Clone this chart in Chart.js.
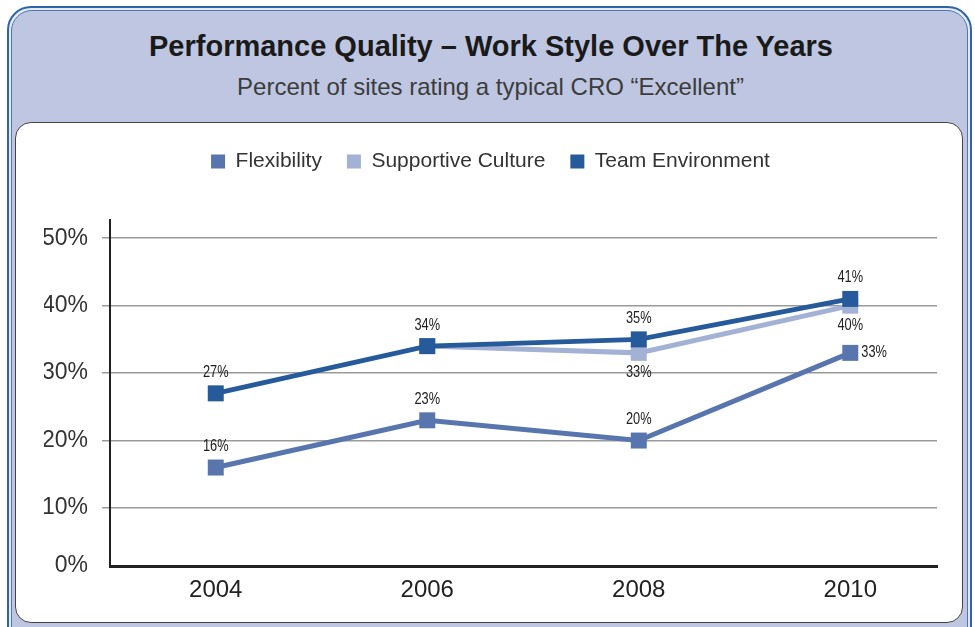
<!DOCTYPE html>
<html>
<head>
<meta charset="utf-8">
<script src="https://cdn.jsdelivr.net/npm/chart.js@4.4.1/dist/chart.umd.min.js"></script>
<style>
  body { margin: 0; width: 975px; height: 627px; overflow: hidden; background: #fff; font-family: "Liberation Sans", Arial, sans-serif; }
  .frame { position: absolute; left: 7px; top: 6px; width: 961px; height: 650px; border: 2px solid #2f64ab; border-radius: 24px; background: #e4e9f4; }
  .frame-in { position: absolute; left: 2px; top: 2px; right: 2px; bottom: 2px; border: 1px solid #4a78b8; border-radius: 21px; background: #bec6e1; }
  .title { position: absolute; left: 0; width: 982px; top: 30px; text-align: center; font-weight: bold; font-size: 29px; color: #1a1a1a; }
  .subtitle { position: absolute; left: 0; width: 981px; top: 73px; text-align: center; font-size: 24px; color: #3c3c3c; }
  .panel { position: absolute; left: 15px; top: 122px; width: 946px; height: 499px; border: 1.5px solid #444; border-radius: 16px; background: #fff; }
  canvas { position: absolute; left: 0; top: 0; }
</style>
</head>
<body>
<div class="frame"><div class="frame-in"></div></div>
<div class="title">Performance Quality – Work Style Over The Years</div>
<div class="subtitle">Percent of sites rating a typical CRO “Excellent”</div>
<div class="panel"></div>
<canvas id="chart" width="975" height="627"></canvas>
<script>
// Chart data
const years = [2004, 2006, 2008, 2010];
const flexibility = [16, 23, 20, 33];
const supportiveCulture = [null, 34, 33, 40];
const teamEnvironment = [27, 34, 35, 41];
const yTicks = [0, 10, 20, 30, 40, 50];

// where each value label sits relative to its point
const flexLabelPos = ['above', 'above', 'above', 'right'];
const supportLabelPos = ['none', 'none', 'below', 'below'];
const teamLabelPos = ['above', 'above', 'above', 'above'];

const colors = ['#5875ae', '#a3b1d5', '#265a9b'];
const fontFamily = '"Liberation Sans", Arial, sans-serif';
const leftPad = 44;

function toPoints(values) {
    return years.map((y, i) => ({ x: y, y: values[i] }));
}

function lineSet(label, values, color, order, labelPos) {
    return {
        label: label,
        data: toPoints(values),
        borderColor: color,
        backgroundColor: color,
        borderWidth: 5,
        pointStyle: 'rect',
        pointRadius: 11.3,
        pointBorderWidth: 0,
        pointBackgroundColor: color,
        order: order,
        labelPos: labelPos
    };
}

// push the plot area down below the legend
const legendSpacer = {
    id: 'legendSpacer',
    beforeInit(chart) {
        const fit = chart.legend.fit;
        chart.legend.fit = function () {
            fit.call(this);
            this.height += 38;
        };
    }
};

// percentage labels next to the markers (squeezed a bit, like a condensed face)
const valueLabels = {
    id: 'valueLabels',
    afterDatasetsDraw(chart) {
        const ctx = chart.ctx;
        chart.data.datasets.forEach((ds, di) => {
            const meta = chart.getDatasetMeta(di);
            meta.data.forEach((pt, i) => {
                const v = ds.data[i].y;
                const pos = ds.labelPos[i];
                if (v === null || pos === 'none') return;
                const text = Math.round(v) + '%';
                ctx.save();
                ctx.font = '16px ' + fontFamily;
                ctx.fillStyle = '#222';
                ctx.textBaseline = 'middle';
                if (pos === 'right') {
                    ctx.translate(pt.x + 11, pt.y);
                    ctx.textAlign = 'left';
                } else {
                    ctx.translate(pt.x, pt.y + (pos === 'above' ? -21 : 20));
                    ctx.textAlign = 'center';
                }
                ctx.scale(0.8, 1);
                ctx.fillText(text, 0, 0);
                ctx.restore();
            });
        });
    }
};

const chart = new Chart(document.getElementById('chart').getContext('2d'), {
    type: 'line',
    data: {
        datasets: [
            lineSet('Flexibility', flexibility, colors[0], 2, flexLabelPos),
            lineSet('Supportive Culture', supportiveCulture, colors[1], 1, supportLabelPos),
            lineSet('Team Environment', teamEnvironment, colors[2], 0, teamLabelPos)
        ]
    },
    plugins: [legendSpacer, valueLabels],
    options: {
        responsive: false,
        animation: false,
        devicePixelRatio: 1,
        layout: { padding: { top: 126, left: leftPad, right: 38, bottom: 0 } },
        plugins: {
            tooltip: { enabled: false },
            legend: {
                position: 'top',
                labels: {
                    boxWidth: 14,
                    boxHeight: 14,
                    padding: 25,
                    color: '#333',
                    font: { family: fontFamily, size: 21 },
                    sort: (a, b) => a.datasetIndex - b.datasetIndex,
                    generateLabels(chart) {
                        const items = Chart.defaults.plugins.legend.labels.generateLabels(chart);
                        items.forEach(it => { it.lineWidth = 0; });
                        return items;
                    }
                }
            }
        },
        scales: {
            x: {
                type: 'linear',
                min: 2003,
                max: 2010.82,
                afterBuildTicks: (scale) => { scale.ticks = years.map(v => ({ value: v })); },
                afterFit: (scale) => { scale.height = 61; },
                grid: { display: false, drawTicks: false },
                border: { display: true, color: '#222', width: 3 },
                ticks: {
                    padding: 10,
                    color: '#222',
                    font: { family: fontFamily, size: 24 },
                    callback: (v) => String(v)
                }
            },
            y: {
                min: 1.4,
                max: 52.7,
                afterBuildTicks: (scale) => {
                    scale.ticks = yTicks.map(v => ({ value: v === 0 ? 1.4 : v }));
                },
                afterFit: (scale) => { scale.width = 110 - leftPad; },
                grid: {
                    color: (c) => c.index === 0 ? 'rgba(0,0,0,0)' : '#9a9a9a',
                    lineWidth: 1.5,
                    tickLength: 8
                },
                border: { display: true, color: '#222', width: 2 },
                ticks: {
                    padding: 14,
                    color: '#333',
                    font: { family: fontFamily, size: 23 },
                    callback: (v) => (v < 5 ? 0 : v) + '%'
                }
            }
        }
    }
});
</script>
</body>
</html>
